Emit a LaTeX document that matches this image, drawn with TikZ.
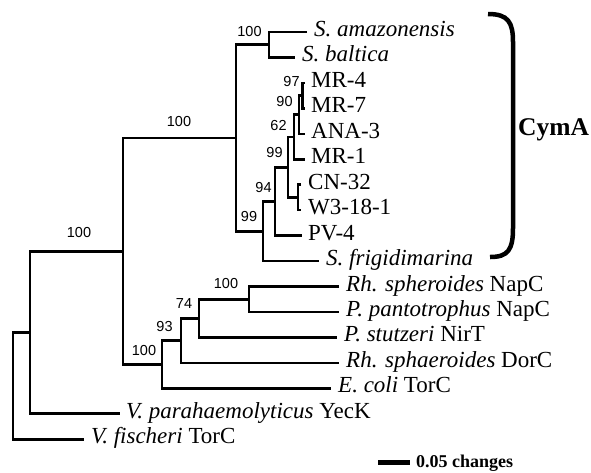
\documentclass[tikz,border=0pt]{standalone}
\usepackage{fontspec}
\setmainfont{Liberation Serif}
\newfontfamily\bsfont{Liberation Sans}
\usetikzlibrary{calc}
\begin{document}
\begin{tikzpicture}[x=1pt,y=-1pt,
  br/.style={line width=2.6pt, line join=miter, line cap=butt},
  tiplab/.style={anchor=base west, inner sep=0pt, font=\fontsize{23}{25}\selectfont},
  bs/.style={inner sep=0pt, font=\bsfont\fontsize{14.5}{16}\selectfont},
]
\useasboundingbox (0,0) rectangle (591,472);
% tips
\coordinate (t0) at (307,32.0);
\coordinate (t1) at (295,57.45);
\coordinate (t2) at (305,82.9);
\coordinate (t3) at (305,108.35);
\coordinate (t4) at (305,133.8);
\coordinate (t5) at (305,159.25);
\coordinate (t6) at (301,184.7);
\coordinate (t7) at (301,210.15);
\coordinate (t8) at (302,235.6);
\coordinate (t9) at (319,261.05);
\coordinate (t10) at (339,286.5);
\coordinate (t11) at (339,311.95);
\coordinate (t12) at (337,337.4);
\coordinate (t13) at (339,362.85);
\coordinate (t14) at (331,388.3);
\coordinate (t15) at (120,413.75);
\coordinate (t16) at (84,439.2);
% internal nodes
\coordinate (Samb) at (269,44.7);
\coordinate (N97) at (302.5,95.6);
\coordinate (N90) at (299,114.7);
\coordinate (N62) at (294,137.0);
\coordinate (NCW) at (298,197.4);
\coordinate (N99up) at (288,167.2);
\coordinate (N94) at (275,201.4);
\coordinate (N99low) at (263,231.2);
\coordinate (S) at (236,138.0);
\coordinate (N100b) at (249,299.2);
\coordinate (N74) at (199,318.3);
\coordinate (N93) at (181,340.6);
\coordinate (D) at (162,364.4);
\coordinate (C) at (123,251.2);
\coordinate (A) at (30,332.5);
\coordinate (R) at (13,385.8);
% branches
\draw[br] (t0) -| (Samb) |- (t1);
\draw[br] (t2) -| (N97) |- (t3);
\draw[br] (N97) -| (N90) |- (t4);
\draw[br] (N90) -| (N62) |- (t5);
\draw[br] (t6) -| (NCW) |- (t7);
\draw[br] (N62) -| (N99up) |- (NCW);
\draw[br] (N99up) -| (N94) |- (t8);
\draw[br] (N94) -| (N99low) |- (t9);
\draw[br] (Samb) -| (S) |- (N99low);
\draw[br] (t10) -| (N100b) |- (t11);
\draw[br] (N100b) -| (N74) |- (t12);
\draw[br] (N74) -| (N93) |- (t13);
\draw[br] (N93) -| (D) |- (t14);
\draw[br] (S) -| (C) |- (D);
\draw[br] (C) -| (A) |- (t15);
\draw[br] (A) -| (R) |- (t16);
% tip labels
\node[tiplab] (L0) at ($(t0)+(7,4.5)$) {\textit{S. amazonensis}};
\node[tiplab] (L1) at ($(t1)+(7,4.5)$) {\textit{S. baltica}};
\node[tiplab] (L2) at ($(t2)+(6,4.5)$) {MR-4};
\node[tiplab] (L3) at ($(t3)+(6,4.5)$) {MR-7};
\node[tiplab] (L4) at ($(t4)+(6,4.5)$) {ANA-3};
\node[tiplab] (L5) at ($(t5)+(6,4.5)$) {MR-1};
\node[tiplab] (L6) at ($(t6)+(7,4.5)$) {CN-32};
\node[tiplab] (L7) at ($(t7)+(7,4.5)$) {W3-18-1};
\node[tiplab] (L8) at ($(t8)+(6,4.5)$) {PV-4};
\node[tiplab] (L9) at ($(t9)+(7,4.5)$) {\textit{S. frigidimarina}};
\node[tiplab] (L10) at ($(t10)+(7,4.5)$) {\textit{Rh. spheroides} NapC};
\node[tiplab] (L11) at ($(t11)+(7,4.5)$) {\textit{P. pantotrophus} NapC};
\node[tiplab] (L12) at ($(t12)+(7,4.5)$) {\textit{P. stutzeri} NirT};
\node[tiplab] (L13) at ($(t13)+(7,4.5)$) {\textit{Rh. sphaeroides} DorC};
\node[tiplab] (L14) at ($(t14)+(7,4.5)$) {\textit{E. coli} TorC};
\node[tiplab] (L15) at ($(t15)+(6,4.5)$) {\textit{V. parahaemolyticus} YecK};
\node[tiplab] (L16) at ($(t16)+(7,4.5)$) {\textit{V. fischeri} TorC};
% bootstrap values
\node[bs] (b1) at (249.5,31.5) {100};
\node[bs] (b2) at (179,122) {100};
\node[bs] (b3) at (79,233) {100};
\node[bs] (b4) at (291.5,82) {97};
\node[bs] (b5) at (284.5,102) {90};
\node[bs] (b6) at (278.5,126) {62};
\node[bs] (b7) at (274.5,153) {99};
\node[bs] (b8) at (263.5,188) {94};
\node[bs] (b9) at (249,217) {99};
\node[bs] (b10) at (144,350) {100};
\node[bs] (b11) at (164.5,327) {93};
\node[bs] (b12) at (184,304) {74};
\node[bs] (b13) at (226,284) {100};
% bracket and CymA
\draw[line width=4.5pt] (488,14) .. controls (508,14) and (513,22) .. (513,42) -- (513,228) .. controls (513,250) and (508,257) .. (490,257);
\node[anchor=base west, inner sep=0pt, font=\bfseries\fontsize{25.5}{27}\selectfont] (cyma) at (518,135) {CymA};
% scale bar
\coordinate (sb1) at (378,462);
\coordinate (sb2) at (410,462);
\draw[line width=5pt] (sb1) -- (sb2);
\node[anchor=base west, inner sep=0pt, font=\bfseries\fontsize{18}{20}\selectfont] (sbl) at (416,467) {0.05 changes};
\end{tikzpicture}
\end{document}
